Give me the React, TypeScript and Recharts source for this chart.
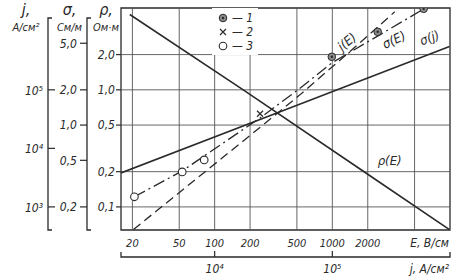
import React from 'react';
import {
  ComposedChart,
  Line,
  Scatter,
  XAxis,
  YAxis,
  ReferenceLine,
  ReferenceArea,
  ReferenceDot,
  Legend,
} from 'recharts';

// E, В/см (lower scale) and j, А/см² (second lower scale)
const eTicks = [20, 50, 100, 200, 500, 1000, 2000];
const eGrid = [20, 50, 100, 200, 500, 1000, 2000, 5000];
const jBottomTicks = [1e4, 1e5];

// left scales
const rhoTicks = [0.1, 0.2, 0.5, 1, 2];
const sigmaTicks = [0.2, 0.5, 1, 2, 5];
const jLeftTicks = [1e3, 1e4, 1e5];

// curves
const rhoE = [
  { E: 19, r: 4.4 },
  { E: 175, r: 1.0 },
  { E: 2000, r: 0.19 },
  { E: 9900, r: 0.064 },
];
const jE = [
  { E: 20.4, jv: 410 },
  { E: 229, jv: 20700 },
  { E: 530, jv: 82000 },
  { E: 1680, jv: 611000 },
  { E: 3390, jv: 2150000 },
];
const sigmaE = [
  { E: 20.8, s: 0.244 },
  { E: 53, s: 0.406 },
  { E: 243, s: 1.15 },
  { E: 510, s: 2.0 },
  { E: 990, s: 3.4 },
  { E: 2530, s: 5.9 },
  { E: 5970, s: 9.8 },
];
const sigmaJ = [
  { j: 1600, s: 0.39 },
  { j: 36000, s: 1.3 },
  { j: 990000, s: 4.7 },
];

// measured points
const points1 = [
  { E: 990, s: 3.83 },
  { E: 2430, s: 6.26 },
  { E: 5970, s: 9.84 },
];
const points2 = [{ E: 243, s: 1.25 }];
const points3 = [
  { E: 20.8, s: 0.244 },
  { E: 53, s: 0.398 },
  { E: 81.5, s: 0.504 },
];
const pointNames = ['1', '2', '3'];

const E_DOMAIN: [number, number] = [16, 10000];
const RHO_DOMAIN: [number, number] = [0.0635, 5];
const SIGMA_DOMAIN: [number, number] = [0.127, 10];
const JL_DOMAIN: [number, number] = [403, 2.5e6];
const JB_DOMAIN: [number, number] = [1600, 1e6];

// axis ids are ordered alphabetically from the plot outwards
const RHO = 'a_rho';
const SIG = 'b_sigma';
const JL = 'c_j';

const ink = '#2a2a2a';
const font = {
  fontFamily: "'Liberation Sans Narrow', 'DejaVu Sans Condensed', 'DejaVu Sans', sans-serif",
  fontStyle: 'italic' as const,
  fill: ink,
};

const curveNotes = [
  { text: 'ρ(E)', E: 3070, r: 0.25, angle: 0 },
  { text: 'j(E)', E: 1330, r: 2.57, angle: -40 },
  { text: 'σ(E)', E: 3340, r: 2.67, angle: -25 },
  { text: 'σ(j)', E: 6700, r: 2.78, angle: -20 },
];

const comma = (v: number) => v.toFixed(1).replace('.', ',');
const pow10 = (v: number) => '10' + ['⁰', '¹', '²', '³', '⁴', '⁵', '⁶'][Math.round(Math.log10(v))];

const leftTitle = (sym: string, unit: string, bracket: boolean) => (p: any) => {
  const { x = 0, y = 0, width = 0, height = 0 } = p.viewBox || {};
  const cx = x + width / 2 + 2;
  const right = x + width;
  return (
    <g>
      <text x={cx} y={15} textAnchor="middle" style={{ ...font, fontSize: 16 }}>{sym}</text>
      <text x={cx} y={31} textAnchor="middle" style={{ ...font, fontSize: 11 }}>{unit}</text>
      {bracket && (
        <path
          d={`M${right + 4},18 L${right},18 L${right},${y + height} L${right + 4},${y + height}`}
          fill="none"
          stroke={ink}
          strokeWidth={1.3}
        />
      )}
    </g>
  );
};

const JLeftTick = (p: any) => (
  <g>
    <line x1={p.x} x2={p.x + 7} y1={p.y} y2={p.y} stroke={ink} strokeWidth={1.2} />
    <text x={p.x - 5} y={p.y + 5} textAnchor="end" style={{ ...font, fontSize: 12 }}>
      {pow10(p.payload.value)}
    </text>
  </g>
);

const JBottomTick = (p: any) => (
  <g>
    <line x1={p.x} x2={p.x} y1={p.y - 6} y2={p.y} stroke={ink} strokeWidth={1.2} />
    <text x={p.x} y={p.y + 16} textAnchor="middle" style={{ ...font, fontSize: 12 }}>
      {pow10(p.payload.value)}
    </text>
  </g>
);

const eTitle = (p: any) => {
  const { x = 0, y = 0, width = 0 } = p.viewBox || {};
  return (
    <text x={x + width - 1} y={y + 17} textAnchor="end" style={{ ...font, fontSize: 12 }}>
      E, В/см
    </text>
  );
};

const jBottomTitle = (p: any) => {
  const { x = 0, y = 0, width = 0 } = p.viewBox || {};
  return (
    <g>
      <path
        d={`M${x},${y - 5} L${x},${y} L${x + width},${y} L${x + width},${y - 5}`}
        fill="none"
        stroke={ink}
        strokeWidth={1.3}
      />
      <text x={x + width - 1} y={y + 16} textAnchor="end" style={{ ...font, fontSize: 12 }}>
        j, А/см²
      </text>
    </g>
  );
};

const Marker1 = (p: any) => (
  <g>
    <circle cx={p.cx} cy={p.cy} r={3.8} fill="#8a8a8a" stroke={ink} strokeWidth={1} />
    <circle cx={p.cx} cy={p.cy} r={1.2} fill={ink} />
  </g>
);
const Marker2 = (p: any) => (
  <path
    d={`M${p.cx - 3},${p.cy - 3} L${p.cx + 3},${p.cy + 3} M${p.cx - 3},${p.cy + 3} L${p.cx + 3},${p.cy - 3}`}
    stroke={ink}
    strokeWidth={1.2}
  />
);
const Marker3 = (p: any) => (
  <circle cx={p.cx} cy={p.cy} r={3.8} fill="#fff" stroke={ink} strokeWidth={1.1} />
);

const legendGlyph = (name: string) => {
  if (name === '1') return <Marker1 cx={5} cy={6} />;
  if (name === '2') return <Marker2 cx={5} cy={6} />;
  return <Marker3 cx={5} cy={6} />;
};

const LegendBox = (props: any) => (
  <div style={{ background: '#fff', padding: '3px 0 2px 6px' }}>
    {(props.payload || [])
      .filter((item: any) => pointNames.includes(String(item.value)))
      .map((item: any) => (
        <div
          key={item.value}
          style={{
            display: 'flex',
            alignItems: 'center',
            height: 14,
            fontFamily: font.fontFamily,
            fontStyle: 'italic',
            fontSize: 12,
            color: ink,
          }}
        >
          <svg width={11} height={12}>{legendGlyph(String(item.value))}</svg>
          <span style={{ marginLeft: 3 }}>— {item.value}</span>
        </div>
      ))}
  </div>
);

const NoteLabel = (text: string, angle: number) => (p: any) => {
  const { x = 0, y = 0 } = p.viewBox || {};
  return (
    <text
      x={x}
      y={y}
      textAnchor="middle"
      dominantBaseline="central"
      transform={`rotate(${angle} ${x} ${y})`}
      style={{ ...font, fontSize: 13 }}
    >
      {text}
    </text>
  );
};

export default function App() {
  return (
    <div style={{ position: 'absolute', left: 0, top: 0, background: '#fff' }}>
      <ComposedChart width={460} height={280} margin={{ top: 8, right: 10, bottom: 0, left: 0 }}>
        <XAxis
          xAxisId="E"
          dataKey="E"
          type="number"
          scale="log"
          domain={E_DOMAIN}
          allowDataOverflow
          ticks={eTicks}
          height={27}
          axisLine={false}
          tickLine={false}
          tickSize={0}
          tickMargin={9}
          tick={{ ...font, fontSize: 11 }}
          label={eTitle}
        />
        <XAxis
          xAxisId="jb"
          dataKey="j"
          type="number"
          scale="log"
          domain={JB_DOMAIN}
          allowDataOverflow
          ticks={jBottomTicks}
          height={23}
          axisLine={false}
          tickLine={false}
          tickSize={0}
          tickMargin={0}
          tick={<JBottomTick />}
          label={jBottomTitle}
        />
        <YAxis
          yAxisId={RHO}
          dataKey="r"
          type="number"
          scale="log"
          domain={RHO_DOMAIN}
          allowDataOverflow
          ticks={rhoTicks}
          width={34}
          axisLine={false}
          tickLine={{ stroke: ink, strokeWidth: 1.2 }}
          tickSize={5}
          tickMargin={1}
          tickFormatter={comma}
          tick={{ ...font, fontSize: 12 }}
          label={leftTitle('ρ,', 'Ом·м', false)}
        />
        <YAxis
          yAxisId={SIG}
          dataKey="s"
          type="number"
          scale="log"
          domain={SIGMA_DOMAIN}
          allowDataOverflow
          ticks={sigmaTicks}
          width={39}
          axisLine={false}
          tickLine={{ stroke: ink, strokeWidth: 1.2 }}
          tickSize={7}
          tickMargin={3}
          tickFormatter={comma}
          tick={{ ...font, fontSize: 12 }}
          label={leftTitle('σ,', 'См/м', true)}
        />
        <YAxis
          yAxisId={JL}
          dataKey="jv"
          type="number"
          scale="log"
          domain={JL_DOMAIN}
          allowDataOverflow
          ticks={jLeftTicks}
          width={48}
          axisLine={false}
          tickLine={false}
          tickSize={0}
          tickMargin={0}
          tick={<JLeftTick />}
          label={leftTitle('j,', 'А/см²', true)}
        />

        {eGrid.map((v) => (
          <ReferenceLine key={'x' + v} xAxisId="E" yAxisId={RHO} x={v} stroke="#555" strokeWidth={0.9} />
        ))}
        {rhoTicks.map((v) => (
          <ReferenceLine key={'y' + v} xAxisId="E" yAxisId={RHO} y={v} stroke="#555" strokeWidth={0.9} />
        ))}
        <ReferenceArea
          xAxisId="E"
          yAxisId={RHO}
          x1={E_DOMAIN[0]}
          x2={E_DOMAIN[1]}
          y1={RHO_DOMAIN[0]}
          y2={RHO_DOMAIN[1]}
          fill="none"
          stroke={ink}
          strokeWidth={1.3}
          fillOpacity={0}
        />

        <Line
          xAxisId="E"
          yAxisId={RHO}
          data={rhoE}
          dataKey="r"
          stroke={ink}
          strokeWidth={1.6}
          dot={false}
          activeDot={false}
          legendType="none"
          isAnimationActive={false}
        />
        <Line
          xAxisId="jb"
          yAxisId={SIG}
          data={sigmaJ}
          dataKey="s"
          stroke={ink}
          strokeWidth={1.6}
          dot={false}
          activeDot={false}
          legendType="none"
          isAnimationActive={false}
        />
        <Line
          xAxisId="E"
          yAxisId={JL}
          data={jE}
          dataKey="jv"
          stroke={ink}
          strokeWidth={1.3}
          strokeDasharray="9 5"
          dot={false}
          activeDot={false}
          legendType="none"
          isAnimationActive={false}
        />
        <Line
          xAxisId="E"
          yAxisId={SIG}
          data={sigmaE}
          dataKey="s"
          stroke={ink}
          strokeWidth={1.3}
          strokeDasharray="12 4 2 4"
          dot={false}
          activeDot={false}
          legendType="none"
          isAnimationActive={false}
        />

        <Scatter name="1" xAxisId="E" yAxisId={SIG} data={points1} dataKey="s" shape={<Marker1 />} isAnimationActive={false} />
        <Scatter name="2" xAxisId="E" yAxisId={SIG} data={points2} dataKey="s" shape={<Marker2 />} isAnimationActive={false} />
        <Scatter name="3" xAxisId="E" yAxisId={SIG} data={points3} dataKey="s" shape={<Marker3 />} isAnimationActive={false} />

        {curveNotes.map((n) => (
          <ReferenceDot
            key={n.text}
            xAxisId="E"
            yAxisId={RHO}
            x={n.E}
            y={n.r}
            r={0}
            fill="none"
            stroke="none"
            label={NoteLabel(n.text, n.angle)}
          />
        ))}

        <Legend
          layout="vertical"
          align="center"
          verticalAlign="middle"
          content={<LegendBox />}
          wrapperStyle={{ left: 212, top: 8, width: 46, height: 46, background: '#fff' }}
        />
      </ComposedChart>
    </div>
  );
}
